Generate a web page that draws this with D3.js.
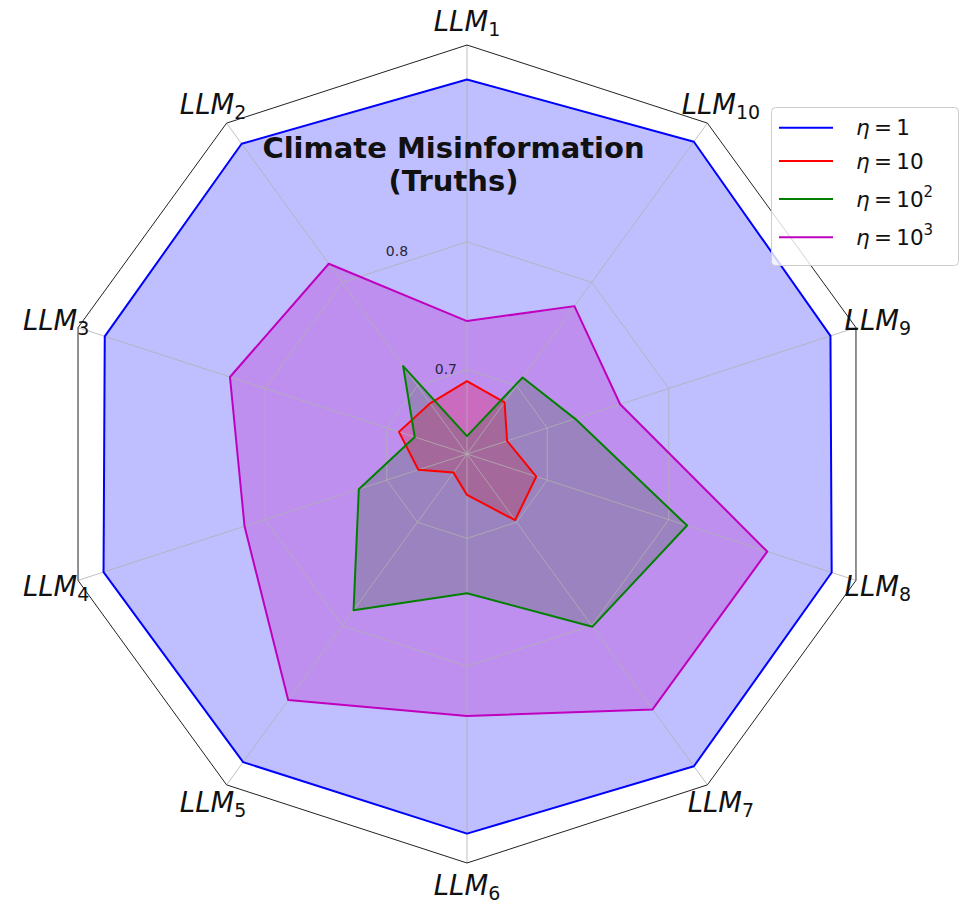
<!DOCTYPE html>
<html>
<head>
<meta charset="utf-8">
<script src="https://cdn.jsdelivr.net/npm/d3@7"></script>
<style>
  html, body { margin: 0; padding: 0; background: #ffffff; }
  svg { display: block; }
  text { font-family: "DejaVu Sans", sans-serif; }
</style>
</head>
<body>
<svg id="chart" width="961" height="908"></svg>
<script>
// Axis categories (one spoke per model)
const models = ["1", "2", "3", "4", "5", "6", "7", "8", "9", "10"];

// Accuracy per model for each eta setting
const eta1    = [0.927, 0.934, 0.932, 0.933, 0.932, 0.931, 0.936, 0.934, 0.933, 0.936];
const eta10   = [0.691, 0.683, 0.690, 0.674, 0.652, 0.666, 0.698, 0.691, 0.667, 0.684];
const eta100  = [0.648, 0.719, 0.677, 0.723, 0.785, 0.743, 0.801, 0.815, 0.723, 0.708];
const eta1000 = [0.738, 0.818, 0.829, 0.817, 0.872, 0.839, 0.881, 0.881, 0.760, 0.777];

// Legend exponents for eta = 10^k (null: plain number)
const etaBase = ["1", "10", "10", "10"];
const etaExp  = [null, null, "2", "3"];
const seriesColors = ["#0000ff", "#ff0000", "#008000", "#bf00bf"];

// Radial grid ticks and radial limits
const rTicks = [0.7, 0.8];
const rMin = 0.634, rMax = 0.954;

const title = ["Climate Misinformation", "(Truths)"];

const series = [eta1, eta10, eta100, eta1000];

const svg = d3.select("#chart");
const cx = 467, cy = 454, R = 409;

const r = d3.scaleLinear().domain([rMin, rMax]).range([0, R]);
const n = models.length;
// d3 radial angle: clockwise from 12 o'clock; spokes go counter-clockwise
const ang = i => -i * 2 * Math.PI / n;

const g = svg.append("g").attr("transform", `translate(${cx},${cy})`);

const radial = d3.lineRadial()
  .angle((d, i) => ang(i))
  .curve(d3.curveLinearClosed);

// Filled areas first, then grid, then outlines
const fillLayer = g.append("g");
const gridLayer = g.append("g");
const lineLayer = g.append("g");

series.forEach((vals, k) => {
  fillLayer.append("path")
    .attr("d", radial.radius(d => r(d))(vals))
    .attr("fill", seriesColors[k])
    .attr("fill-opacity", 0.25)
    .attr("stroke", "none");
});

// Polygonal grid rings
rTicks.forEach(t => {
  gridLayer.append("path")
    .attr("d", radial.radius(() => r(t))(models))
    .attr("fill", "none")
    .attr("stroke", "#b0b0b0")
    .attr("stroke-width", 0.8);
});

// Spokes
gridLayer.selectAll("line.spoke").data(models).join("line")
  .attr("class", "spoke")
  .attr("x1", 0).attr("y1", 0)
  .attr("x2", (d, i) => R * Math.sin(ang(i)))
  .attr("y2", (d, i) => -R * Math.cos(ang(i)))
  .attr("stroke", "#b0b0b0")
  .attr("stroke-width", 0.8);

// Radial tick labels
const labelAng = -Math.PI / 8;
gridLayer.selectAll("text.rtick").data(rTicks).join("text")
  .attr("class", "rtick")
  .attr("x", d => r(d) * Math.sin(labelAng))
  .attr("y", d => -r(d) * Math.cos(labelAng) - 2)
  .attr("text-anchor", "start")
  .attr("font-size", 14)
  .attr("fill", "#262640")
  .text(d => d.toFixed(1));

// Series outlines
series.forEach((vals, k) => {
  lineLayer.append("path")
    .attr("d", radial.radius(d => r(d))(vals))
    .attr("fill", "none")
    .attr("stroke", seriesColors[k])
    .attr("stroke-width", 2)
    .attr("stroke-linejoin", "round");
});

// Outer polygon frame
lineLayer.append("path")
  .attr("d", radial.radius(() => R)(models))
  .attr("fill", "none")
  .attr("stroke", "#222")
  .attr("stroke-width", 1);

// Spoke labels LLM_i
const labR = 432;
const labels = g.append("g").selectAll("text.axlab").data(models).join("text")
  .attr("class", "axlab")
  .attr("x", (d, i) => labR * Math.sin(ang(i)))
  .attr("y", (d, i) => -labR * Math.cos(ang(i)) + 9)
  .attr("text-anchor", "middle")
  .attr("font-size", 27.5)
  .attr("fill", "#111");
labels.append("tspan").attr("font-style", "italic").text("LLM");
labels.append("tspan").attr("font-size", 19).attr("dy", 5).text(d => d);

// Title
svg.append("text")
  .attr("x", 453.5).attr("y", 158)
  .attr("text-anchor", "middle")
  .attr("font-size", 29).attr("font-weight", "bold").attr("fill", "#111")
  .selectAll("tspan").data(title).join("tspan")
  .attr("x", 453.5)
  .attr("dy", (d, i) => i === 0 ? 0 : 33)
  .text(d => d);

// Legend
const leg = svg.append("g");
leg.append("rect")
  .attr("x", 771.5).attr("y", 107.5)
  .attr("width", 187).attr("height", 158)
  .attr("rx", 4)
  .attr("fill", "#ffffff").attr("fill-opacity", 0.8)
  .attr("stroke", "#cccccc").attr("stroke-width", 1);

const rowY = i => 127.7 + 33.3 * i + (i >= 2 ? 4.8 * (i - 1) : 0);
etaBase.forEach((b, i) => {
  const y = rowY(i);
  leg.append("line")
    .attr("x1", 779).attr("x2", 833)
    .attr("y1", y).attr("y2", y)
    .attr("stroke", seriesColors[i]).attr("stroke-width", 2);
  const t = leg.append("text")
    .attr("x", 856).attr("y", y + 7.5)
    .attr("font-size", 21.5).attr("fill", "#111");
  t.append("tspan").attr("font-style", "italic").text("η");
  t.append("tspan").text("\u2009=\u2009" + b);
  if (etaExp[i]) {
    t.append("tspan").attr("font-size", 15).attr("dy", -10).text(etaExp[i]);
  }
});
</script>
</body>
</html>
